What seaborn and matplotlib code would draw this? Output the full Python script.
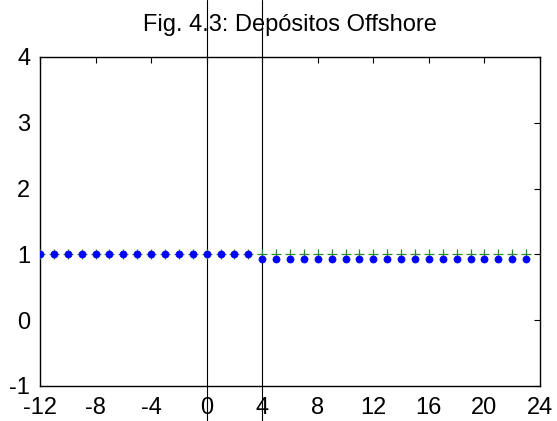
import matplotlib
matplotlib.use("Agg")
import matplotlib.pyplot as plt
import seaborn as sns
import pandas as pd

# Horizon (months) and the two series
periods = list(range(-12, 24))
baseline = [1.0] * 36
deposits = [1.0] * 16 + [0.93] * 20
x_ticks = [-12, -8, -4, 0, 4, 8, 12, 16, 20, 24]
y_ticks = [-1, 0, 1, 2, 3, 4]
event_lines = [0, 4]

sns.set_style("white")
plt.rcParams["font.family"] = ["Liberation Sans", "DejaVu Sans"]

W, H = 557, 421
L, R, T, B = 40, 540, 57, 386
fig = plt.figure(figsize=(W / 100, H / 100), dpi=100)
ax = fig.add_axes([L / W, 1 - B / H, (R - L) / W, (B - T) / H])

df = pd.DataFrame({"t": periods, "base": baseline, "dep": deposits})
sns.scatterplot(data=df, x="t", y="base", marker="+", s=50, color="#2e8b2e",
                linewidth=0.9, ax=ax, zorder=3)
sns.scatterplot(data=df, x="t", y="dep", marker="o", s=26, color="#0000ff",
                edgecolor="#0000ff", linewidth=0.5, ax=ax, zorder=4)

ax.set_xlim(-12, 24)
ax.set_ylim(-1, 4)
ax.set_xticks(x_ticks)
ax.set_yticks(y_ticks)
ax.set_xticklabels([str(v) for v in x_ticks])
ax.set_yticklabels([str(v) for v in y_ticks])
ax.set_xlabel("")
ax.set_ylabel("")
ax.tick_params(direction="in", length=4, width=0.8, labelsize=17, colors="black",
               top=True, right=True)
ax.tick_params(axis="x", pad=8)
ax.tick_params(axis="y", pad=7)
for sp in ax.spines.values():
    sp.set_visible(True)
    sp.set_color("black")
    sp.set_linewidth(1.0)

# Vertical reference lines spanning the whole figure height
lo = -(H - B) / (B - T)
hi = 1 + T / (B - T)
for xv in event_lines:
    ax.axvline(xv, ymin=lo, ymax=hi, color="black", linewidth=0.8, clip_on=False, zorder=1)

fig.text((L + R) / 2 / W, 1 - 25 / H, "Fig. 4.3: Depósitos Offshore",
         ha="center", va="center", fontsize=17, color="black")

fig.savefig("out.png", dpi=100, facecolor="white")
